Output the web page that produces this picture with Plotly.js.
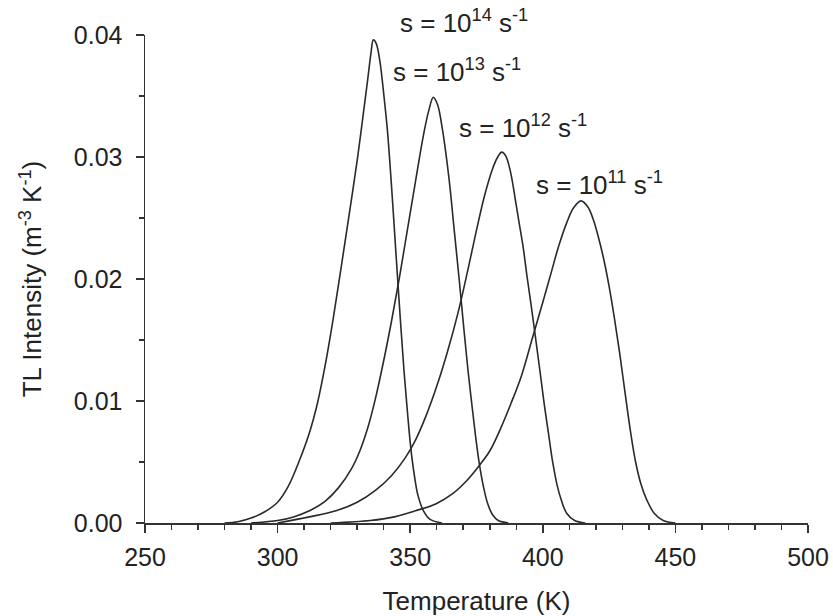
<!DOCTYPE html>
<html>
<head>
<meta charset="utf-8">
<script src="https://cdn.plot.ly/plotly-3.0.1.min.js"></script>
<style>html,body{margin:0;padding:0;background:#fff;}#chart{width:833px;height:616px;}</style>
</head>
<body>
<div id="chart"></div>
<script>
// s = 1e14 s^-1
const T14 = [280, 285, 290, 295, 300, 304, 308, 312, 315, 318, 321, 324, 327, 330, 332, 334, 335.2, 336.1, 337.2, 338.6, 340.1, 341.4, 342.8, 344, 345.2, 346.5, 347.7, 349, 350.2, 351.5, 353, 355, 357.5, 362];
const I14 = [0, 0.0001, 0.0004, 0.0009, 0.0017, 0.0030, 0.0050, 0.0074, 0.0098, 0.0130, 0.0168, 0.0210, 0.0253, 0.0297, 0.0330, 0.0364, 0.0385, 0.0396, 0.0393, 0.0378, 0.0350, 0.0322, 0.0281, 0.0242, 0.0202, 0.0160, 0.0124, 0.0090, 0.0062, 0.0040, 0.0022, 0.0010, 0.0003, 0];
// s = 1e13 s^-1
const T13 = [290, 300, 306, 312, 318, 323, 328, 331, 334, 337, 340, 343, 346, 349, 352, 355, 357, 358.7, 360.3, 362.2, 364.7, 366.6, 368.5, 370.2, 371.8, 373.2, 374.6, 376.1, 377.6, 379.2, 381, 383.2, 387];
const I13 = [0, 0.0002, 0.0005, 0.0010, 0.0018, 0.0029, 0.0045, 0.0059, 0.0078, 0.0103, 0.0133, 0.0166, 0.0202, 0.0241, 0.0280, 0.0318, 0.0338, 0.0349, 0.0343, 0.0322, 0.0281, 0.0240, 0.0199, 0.0160, 0.0125, 0.0098, 0.0072, 0.0048, 0.0030, 0.0016, 0.0007, 0.0002, 0];
// s = 1e12 s^-1
const T12 = [300, 312, 322, 330, 337, 343, 348, 352, 356, 360, 364, 368, 372, 375, 378, 381, 383, 384.5, 386, 387.8, 389.5, 391, 392.6, 394, 395.5, 397, 398.9, 400.5, 402.1, 403.8, 405.5, 407.1, 409, 412, 416];
const I12 = [0, 0.0005, 0.0010, 0.0017, 0.0027, 0.0039, 0.0053, 0.0068, 0.0088, 0.0112, 0.0140, 0.0172, 0.0210, 0.0240, 0.0268, 0.0290, 0.0300, 0.0304, 0.0301, 0.0288, 0.0267, 0.0247, 0.0226, 0.0203, 0.0180, 0.0156, 0.0125, 0.0098, 0.0074, 0.0049, 0.0030, 0.0018, 0.0008, 0.0002, 0];
// s = 1e11 s^-1
const T11 = [320, 335, 344, 352, 360, 366, 371, 376, 380, 384, 388, 392, 396, 400, 403, 406, 409, 411.5, 414.4, 417, 419, 421, 423, 425, 427, 429, 431, 433, 435, 437, 439.2, 442, 445.4, 450];
const I11 = [0, 0.0002, 0.0005, 0.0010, 0.0016, 0.0024, 0.0034, 0.0047, 0.0059, 0.0077, 0.0098, 0.0121, 0.0151, 0.0181, 0.0204, 0.0227, 0.0246, 0.0258, 0.0264, 0.0259, 0.0249, 0.0234, 0.0216, 0.0194, 0.0168, 0.0139, 0.0107, 0.0076, 0.0050, 0.0032, 0.0019, 0.0008, 0.0002, 0];

const labels = ['s = 10<sup>14</sup> s<sup>-1</sup>', 's = 10<sup>13</sup> s<sup>-1</sup>', 's = 10<sup>12</sup> s<sup>-1</sup>', 's = 10<sup>11</sup> s<sup>-1</sup>'];
const labelX = [345.3, 342.6, 367.6, 396.6];
const labelY = [0.0411, 0.0371, 0.0325, 0.0278];

const xRange = [250, 500];
const yRange = [0, 0.04];

const series = [[T14, I14], [T13, I13], [T12, I12], [T11, I11]];
const traces = series.map(function (s, i) {
  return {
    x: s[0], y: s[1], type: 'scatter', mode: 'lines',
    line: {color: '#2a2a2a', width: 1.6, shape: 'spline', smoothing: 1.0},
    cliponaxis: false, showlegend: false, hoverinfo: 'skip', name: labels[i]
  };
});

const fam = 'Liberation Sans, Arial, sans-serif';

const annotations = labels.map(function (t, i) {
  return {
    x: (labelX[i] - xRange[0]) / (xRange[1] - xRange[0]),
    y: (labelY[i] - yRange[0]) / (yRange[1] - yRange[0]),
    xref: 'paper', yref: 'paper', text: t, showarrow: false,
    xanchor: 'left', yanchor: 'middle', font: {family: fam, size: 26, color: '#222'}
  };
});

const layout = {
  width: 833, height: 616,
  margin: {l: 145, r: 25, t: 35, b: 93},
  paper_bgcolor: '#fff', plot_bgcolor: '#fff',
  font: {family: fam, color: '#222', size: 25},
  showlegend: false,
  xaxis: {
    range: xRange, tickvals: [250, 300, 350, 400, 450, 500],
    showgrid: false, zeroline: false, showline: true, linecolor: '#333', linewidth: 1.5,
    ticks: 'outside', ticklen: 8, tickwidth: 1.5, tickcolor: '#333',
    minor: {dtick: 10, ticks: 'outside', ticklen: 5, tickwidth: 1.5, tickcolor: '#333', showgrid: false},
    tickfont: {size: 25}, ticklabelstandoff: 3, automargin: false,
    title: {text: 'Temperature (K)', font: {size: 26}, standoff: 24}
  },
  yaxis: {
    range: yRange, tickvals: [0, 0.01, 0.02, 0.03, 0.04], tickformat: '.2f',
    showgrid: false, zeroline: false, showline: true, linecolor: '#333', linewidth: 1.5,
    ticks: 'outside', ticklen: 8, tickwidth: 1.5, tickcolor: '#333',
    minor: {dtick: 0.005, ticks: 'outside', ticklen: 5, tickwidth: 1.5, tickcolor: '#333', showgrid: false},
    tickfont: {size: 25}, ticklabelstandoff: 8, automargin: false,
    title: {text: 'TL Intensity (m<sup>-3</sup> K<sup>-1</sup>)', font: {size: 26}, standoff: 24}
  },
  annotations: annotations
};

Plotly.newPlot('chart', traces, layout, {staticPlot: true, displayModeBar: false});
</script>
</body>
</html>
